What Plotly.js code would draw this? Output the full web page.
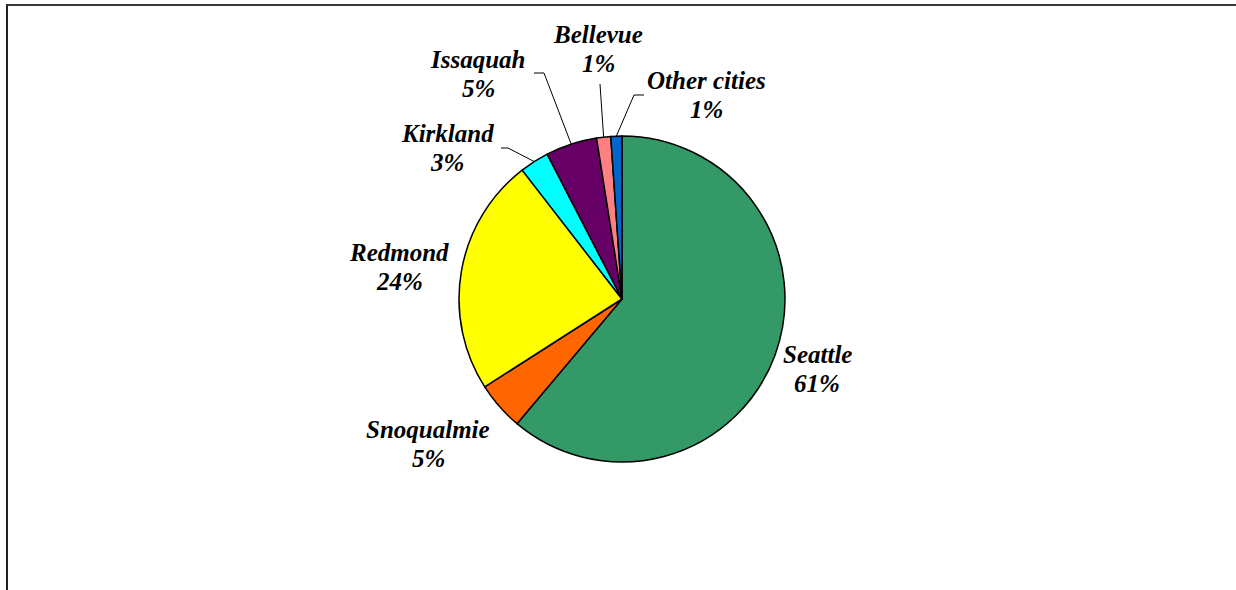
<!DOCTYPE html>
<html>
<head>
<meta charset="utf-8">
<script src="https://cdn.plot.ly/plotly-3.0.1.min.js"></script>
<style>
  html, body { margin: 0; padding: 0; background: #ffffff; overflow: hidden; }
  #chart { position: absolute; left: 0; top: 0; width: 1236px; height: 590px; }
  #frame { position: absolute; left: 6px; top: 4px; width: 2000px; height: 2000px;
           border-left: 2px solid #222; border-top: 2px solid #3a3a3a; pointer-events: none; }
</style>
</head>
<body>
<div id="chart"></div>
<div id="frame"></div>
<script>
// ---- data ----
const cities = ["Seattle", "Snoqualmie", "Redmond", "Kirkland", "Issaquah", "Bellevue", "Other cities"];
const shares = [61.2, 4.8, 23.6, 2.9, 5.1, 1.4, 1.1];
const colors = ["#339966", "#FF6600", "#FFFF00", "#00FFFF", "#660066", "#FF8080", "#0066CC"];

// ---- layout config (pixels) ----
const W = 1236, H = 590;
const cx = 622, cy = 299, R = 163;
const lineGap = 29;
// label block centres
const labelPos = {
  "Seattle": [817, 369],
  "Snoqualmie": [428, 444],
  "Redmond": [399, 267],
  "Kirkland": [447, 148],
  "Issaquah": [478, 74],
  "Bellevue": [598, 49],
  "Other cities": [706, 95]
};
// leader line points on the label side (ending at the slice edge)
const leaderPts = {
  "Kirkland": [[501, 148], [508, 148]],
  "Issaquah": [[534, 73], [544, 73]],
  "Bellevue": [[600, 84]],
  "Other cities": [[644, 95], [634, 95]]
};

const px2x = p => p / W;
const py2y = p => 1 - p / H;
const total = shares.reduce((a, b) => a + b, 0);

const trace = {
  type: "pie",
  labels: cities,
  values: shares,
  sort: false,
  direction: "clockwise",
  rotation: 0,
  textinfo: "none",
  hoverinfo: "label+percent",
  marker: { colors: colors, line: { color: "#000000", width: 1.5 } },
  domain: { x: [px2x(cx - R), px2x(cx + R)], y: [py2y(cy + R), py2y(cy - R)] },
  showlegend: false
};

const font = { family: "Liberation Serif, Times New Roman, serif", size: 25, color: "#000000" };
const annotations = [];
const shapes = [];
let cum = 0;
cities.forEach((c, i) => {
  const frac = shares[i] / total;
  const mid = (cum + frac / 2) * 2 * Math.PI;
  cum += frac;
  const pct = Math.round(frac * 100);
  const lp = labelPos[c];
  [c, pct + "%"].forEach((t, k) => {
    annotations.push({
      x: px2x(lp[0]), y: py2y(lp[1] + (k === 0 ? -lineGap / 2 : lineGap / 2)),
      xref: "paper", yref: "paper",
      xanchor: "center", yanchor: "middle", showarrow: false, align: "center",
      text: "<b><i>" + t + "</i></b>",
      font: font
    });
  });
  if (leaderPts[c]) {
    const ex = cx + R * Math.sin(mid), ey = cy - R * Math.cos(mid);
    const pts = leaderPts[c].concat([[ex, ey]]);
    let path = "";
    pts.forEach((p, k) => { path += (k === 0 ? "M " : " L ") + px2x(p[0]) + "," + py2y(p[1]); });
    shapes.push({ type: "path", xref: "paper", yref: "paper", path: path,
                  line: { color: "#000000", width: 1 } });
  }
});

const layout = {
  width: W, height: H,
  margin: { l: 0, r: 0, t: 0, b: 0 },
  paper_bgcolor: "#ffffff",
  annotations: annotations,
  shapes: shapes
};

Plotly.newPlot("chart", [trace], layout, { displayModeBar: false, staticPlot: true });
</script>
</body>
</html>
